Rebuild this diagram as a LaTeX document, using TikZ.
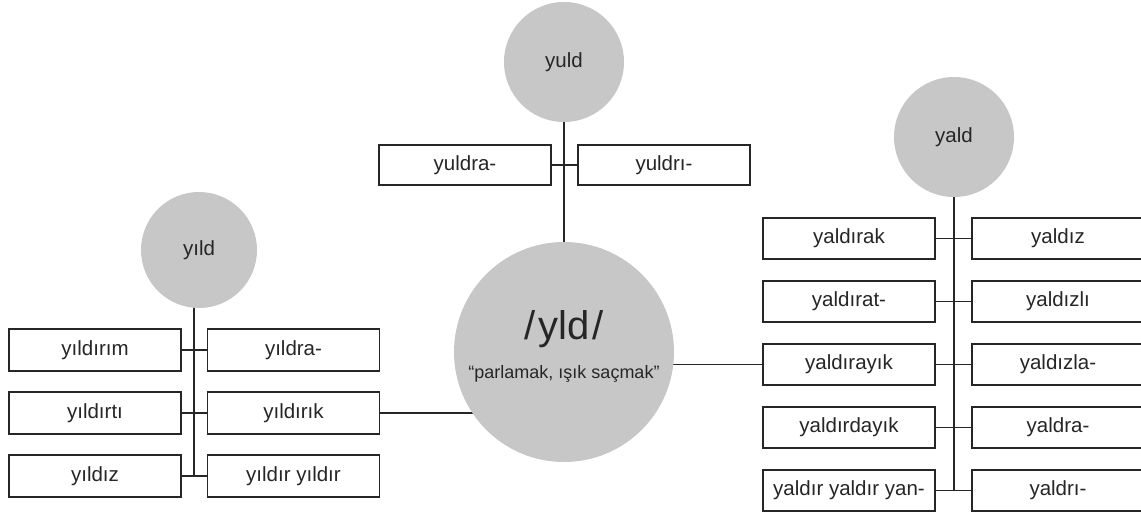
\documentclass[tikz,border=0pt]{standalone}
\usepackage{fontspec}
\setmainfont{Liberation Sans}
\usetikzlibrary{backgrounds}
\begin{document}
\begin{tikzpicture}[x=1pt,y=-1pt,
  every node/.style={text=black!85},
  rootc/.style={circle,fill=black!22,draw=none,minimum size=#1,inner sep=0pt,font=\fontsize{20.5}{24}\selectfont},
  wbox/.style={draw=black!85,line width=1.2pt,fill=white,minimum width=172pt,minimum height=41pt,inner sep=0pt,font=\fontsize{20.5}{24}\selectfont},
  link/.style={draw=black!85,line width=1.4pt}]
\useasboundingbox (0,0) rectangle (1141,512);

% central root
\node[rootc=220pt] (core) at (564,352) {};
\node (coretitle) at (564,329) {\fontsize{40}{44}\selectfont /\kern3pt yld\kern3pt/};
\node (coregloss) at (564,374) {\fontsize{18}{21}\selectfont “parlamak, ışık saçmak”};

% yuld branch (top)
\node[rootc=120pt] (yuld) at (564,62) {yuld};
\node[wbox,minimum height=40pt] (t1) at (465,165) {yuldra-};
\node[wbox,minimum height=40pt] (t2) at (664,165) {yuldrı-};

% yıld branch (left)
\node[rootc=116pt] (yild) at (199,250) {yıld};
\node[wbox,minimum height=42pt] (l1) at (95,350) {yıldırım};
\node[wbox,minimum height=42pt] (l2) at (95,413) {yıldırtı};
\node[wbox,minimum height=42pt] (l3) at (95,476) {yıldız};
\node[wbox,minimum height=42pt] (r1) at (293.5,350) {yıldra-};
\node[wbox,minimum height=42pt] (r2) at (293.5,413) {yıldırık};
\node[wbox,minimum height=42pt] (r3) at (293.5,476) {yıldır yıldır};
\coordinate (ltop) at (194,300);
\coordinate (lbot) at (194,476);

% yald branch (right)
\node[rootc=120pt] (yald) at (954,137) {yald};
\node[wbox] (a1) at (849,238.5) {yaldırak};
\node[wbox] (a2) at (849,301.5) {yaldırat-};
\node[wbox] (a3) at (849,364.5) {yaldırayık};
\node[wbox] (a4) at (849,427.5) {yaldırdayık};
\node[wbox] (a5) at (849,490.5) {yaldır yaldır yan-};
\node[wbox] (b1) at (1058,238.5) {yaldız};
\node[wbox] (b2) at (1058,301.5) {yaldızlı};
\node[wbox] (b3) at (1058,364.5) {yaldızla-};
\node[wbox] (b4) at (1058,427.5) {yaldra-};
\node[wbox] (b5) at (1058,490.5) {yaldrı-};
\coordinate (rbot) at (954,490.5);

% connectors, kept behind the circles and boxes
\begin{pgfonlayer}{background}
  \draw[link] (yuld) -- (core);
  \draw[link] (t1.east) -- (t2.west);
  \draw[link] (ltop) -- (lbot);
  \foreach \i in {1,2,3} \draw[link] (l\i.east) -- (r\i.west);
  \draw[link] (r2.east) -- (r2.east -| core.center);
  \draw[link] (yald) -- (rbot);
  \foreach \i in {1,...,5} \draw[link] (a\i.east) -- (b\i.west);
  \draw[link] (a3.west) -- (a3.west -| core.center);
\end{pgfonlayer}
\end{tikzpicture}
\end{document}
